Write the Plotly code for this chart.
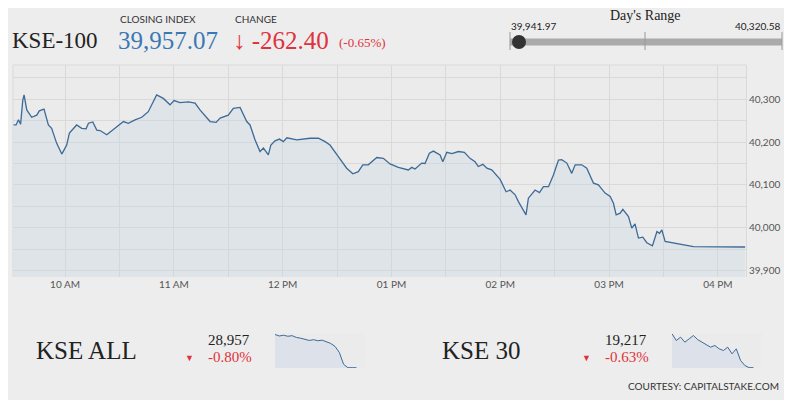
import plotly.graph_objects as go

# minutes relative to 10:00 AM
t_min = [-28.5,-27,-25.7,-24.5,-23.3,-22.6,-21.1,-18.4,-15.6,-14.2,-11.6,-9.2,-7.4,-4.6,-1.8,0.9,2.4,6.4,9.2,11.6,12.9,15.3,17.5,19.3,23,25.8,32.2,34.9,38.6,42.3,45.9,50.5,54.2,57.9,60.1,63.4,68,71.7,74.4,80,83.3,85.5,90,92.8,96.5,100.2,102,104.8,107.5,109.4,112.1,113.5,115.8,118.2,120.4,122.3,127.8,135.1,139.7,143.4,146.1,150.7,155.3,158.7,161.7,164.2,167.2,171.9,175.5,179.2,183.8,189.3,191.2,193,196.7,198.5,200.9,203.1,206.8,208.3,210.5,213.3,216.9,220.2,223.3,226.1,227.9,230.4,232.6,235.3,239.9,243.2,245.4,248.2,250,254.2,255.5,259.2,261.6,263.8,266.6,269.3,272.1,273.9,276.7,279.4,281.3,284.9,287.7,291.4,294.1,297.8,300.6,302.4,303.9,306.1,307.6,310.7,312.5,314.3,316.2,318.6,320.8,323.9,326.4,327.8,329.1,330.9,346.5,375]
kse100 = [40240,40240,40252,40242,40298,40310,40275,40258,40263,40273,40277,40240,40232,40197,40172,40193,40221,40240,40232,40231,40244,40247,40228,40227,40217,40227,40248,40244,40252,40258,40271,40310,40302,40287,40297,40292,40294,40291,40275,40248,40246,40256,40263,40279,40281,40248,40240,40205,40178,40186,40170,40193,40203,40207,40201,40210,40205,40209,40209,40201,40193,40166,40139,40126,40131,40147,40147,40164,40162,40149,40141,40135,40141,40137,40151,40150,40174,40179,40170,40154,40176,40173,40178,40176,40162,40154,40143,40148,40139,40135,40113,40084,40088,40077,40061,40030,40069,40088,40082,40096,40096,40123,40158,40159,40151,40127,40147,40147,40139,40104,40100,40081,40073,40057,40030,40034,40043,40026,39999,40009,39976,39978,39965,39958,39991,39987,39995,39968,39956,39955]

tick_vals = [-30,0,30,60,90,120,150,180,210,240,270,300,330,360]
tick_text = ["","10 AM","","11 AM","","12 PM","","01 PM","","02 PM","","03 PM","","04 PM"]

kse_all = [29180,29170,29175,29168,29172,29160,29155,29150,29140,29145,29138,29142,29130,29120,29100,29060,28980,28957,28957,28957]
kse30 = [19420,19380,19400,19370,19390,19410,19385,19370,19360,19340,19350,19330,19320,19340,19300,19330,19260,19230,19217,19217]

BG = "#ededed"
OFF = 8  # page body margin
W, H = 792 - OFF, 400 - OFF
px = lambda x: (x - OFF) / W
py = lambda y: 1 - (y - OFF) / H

fig = go.Figure()
fig.add_trace(go.Scatter(x=t_min, y=kse100, mode="lines", line=dict(color="#3d6a96", width=1.3),
                         fill="tozeroy", fillcolor="rgba(200,214,230,0.35)", hoverinfo="skip"))
fig.add_trace(go.Scatter(y=kse_all, mode="lines", line=dict(color="#3d6a96", width=1),
                         fill="tozeroy", fillcolor="#dde2ea", xaxis="x2", yaxis="y2"))
fig.add_trace(go.Scatter(y=kse30, mode="lines", line=dict(color="#3d6a96", width=1),
                         fill="tozeroy", fillcolor="#dde2ea", xaxis="x3", yaxis="y3"))

fig.update_layout(
    width=W, height=H, margin=dict(l=0, r=0, t=0, b=0),
    paper_bgcolor=BG, plot_bgcolor="#ebebeb", showlegend=False,
    font=dict(family="Lato", color="#444"),
    xaxis=dict(domain=[px(13), px(746)], range=[-28.7, 375.5], tickvals=tick_vals, ticktext=tick_text,
               showgrid=True, gridcolor="#d9d9d9", zeroline=False, tickfont=dict(size=10, color="#555"),
               ticks="", fixedrange=True),
    yaxis=dict(domain=[py(277), py(65)], range=[39885, 40380], side="right",
               tickvals=[39900,39950,40000,40050,40100,40150,40200,40250,40300,40350],
               ticktext=["39,900","","40,000","","40,100","","40,200","","40,300",""],
               showgrid=True, gridcolor="#d9d9d9", zeroline=False, tickfont=dict(size=10, color="#555"),
               showline=True, linecolor="#d9d9d9"),
    xaxis2=dict(domain=[px(275), px(365)], anchor="y2", visible=False, range=[0, 21]),
    yaxis2=dict(domain=[py(368), py(333)], anchor="x2", visible=False, range=[28955, 29190]),
    xaxis3=dict(domain=[px(672), px(762)], anchor="y3", visible=False, range=[0, 21]),
    yaxis3=dict(domain=[py(368), py(333)], anchor="x3", visible=False, range=[19215, 19425]),
)

def ann(x, y, text, size, color, family="Lato", xanchor="left"):
    fig.add_annotation(x=px(x), y=py(y), xref="paper", yref="paper", text=text, showarrow=False,
                       xanchor=xanchor, yanchor="middle", font=dict(size=size, color=color, family=family))

SERIF = "Liberation Serif"
ann(10, 41, "KSE-100", 23, "#222", SERIF)
ann(118, 19, "CLOSING INDEX", 10, "#333")
ann(116, 41, "39,957.07", 25, "#3a78b5", SERIF)
ann(233, 19, "CHANGE", 10, "#333")
ann(231, 41, "↓ -262.40", 25, "#e0323c", SERIF)
ann(337, 42, "(-0.65%)", 13, "#e0323c", SERIF)
ann(645, 15, "Day's Range", 14, "#222", SERIF, "center")
ann(509, 26, "39,941.97", 10, "#222", "Lato")
ann(782, 26, "40,320.58", 10, "#222", "Lato", "right")
ann(34, 350, "KSE ALL", 25, "#222", SERIF)
ann(252, 340, "28,957", 15, "#222", SERIF, "right")
ann(254, 357, "-0.80%", 15, "#e0323c", SERIF, "right")
ann(183, 357, "▼", 9, "#e0323c")
ann(440, 350, "KSE 30", 25, "#222", SERIF)
ann(649, 340, "19,217", 15, "#222", SERIF, "right")
ann(651, 357, "-0.63%", 15, "#e0323c", SERIF, "right")
ann(580, 357, "▼", 9, "#e0323c")
ann(781, 386, "COURTESY: CAPITALSTAKE.COM", 10, "#333", "Lato", "right")

P = dict(xref="paper", yref="paper")
shapes = [
    dict(type="line", x0=px(510), x1=px(782), y0=py(42), y1=py(42), line=dict(color="#aaaaaa", width=7), **P),
    dict(type="line", x0=px(510), x1=px(510), y0=py(32), y1=py(50), line=dict(color="#999", width=1), **P),
    dict(type="line", x0=px(645), x1=px(645), y0=py(32), y1=py(50), line=dict(color="#999", width=1), **P),
    dict(type="line", x0=px(782), x1=px(782), y0=py(32), y1=py(50), line=dict(color="#999", width=1), **P),
    dict(type="circle", x0=px(512), x1=px(526), y0=py(35), y1=py(49), fillcolor="#333", line=dict(width=0), **P),
    dict(type="line", x0=px(13), x1=px(746), y0=py(65), y1=py(65), line=dict(color="#d9d9d9", width=1), **P),
    dict(type="line", x0=px(13), x1=px(13), y0=py(65), y1=py(277), line=dict(color="#d9d9d9", width=1), **P),
]
fig.update_layout(shapes=shapes)
fig.write_html("out.html")
